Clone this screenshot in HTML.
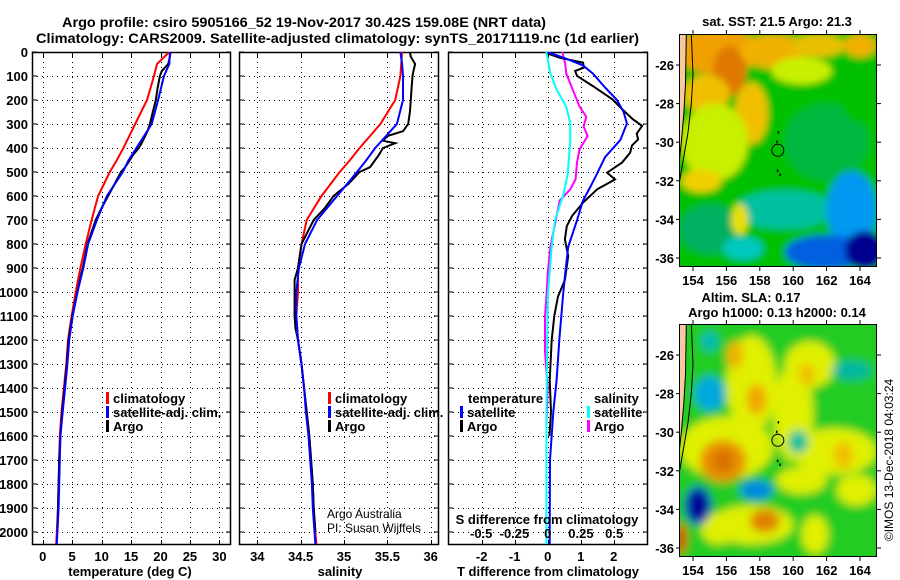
<!DOCTYPE html>
<html><head><meta charset="utf-8">
<style>
html,body{margin:0;padding:0;background:#fff;}
svg{display:block;font-family:"Liberation Sans",sans-serif;}
.b{font-weight:bold;font-size:13px;}
</style></head>
<body>
<svg id="fig" width="900" height="580" viewBox="0 0 900 580" xmlns="http://www.w3.org/2000/svg">
<defs>
<filter id="blurA" x="-20%" y="-20%" width="140%" height="140%"><feGaussianBlur stdDeviation="3.5"/></filter>
<filter id="blurB" x="-20%" y="-20%" width="140%" height="140%"><feGaussianBlur stdDeviation="4.5"/></filter>
<clipPath id="clipTop"><rect x="679" y="34" width="198" height="233"/></clipPath>
<clipPath id="clipBot"><rect x="679" y="324" width="198" height="233"/></clipPath>
<clipPath id="c1"><rect x="32" y="52" width="199" height="493"/></clipPath>
<clipPath id="c2"><rect x="239" y="52" width="200" height="493"/></clipPath>
<clipPath id="c3"><rect x="448" y="52" width="200" height="493"/></clipPath>
</defs>
<text x="62" y="27" font-size="14" font-weight="bold" textLength="484" lengthAdjust="spacingAndGlyphs">Argo profile: csiro 5905166_52 19-Nov-2017 30.42S 159.08E (NRT data)</text>
<text x="36" y="43" font-size="14" font-weight="bold" textLength="603" lengthAdjust="spacingAndGlyphs">Climatology: CARS2009. Satellite-adjusted climatology: synTS_20171119.nc (1d earlier)</text>
<g id="charts"></g>
<g id="maps"></g>
</svg>
<script>
// ---------- profile data ----------
const depthsC = [0,50,100,200,300,400,450,500,600,700,800,900,1000,1100,1200,1300,1400,1500,1600,1700,1800,1900,2000,2050];
const climT = [21.5,19.4,18.9,17.7,15.7,13.7,12.6,11.4,9.4,8.3,7.3,6.4,5.6,4.9,4.3,4.0,3.6,3.2,2.9,2.8,2.7,2.6,2.4,2.3];
const satT = [21.6,21.5,20.6,19.6,18.5,15.9,14.6,13.6,10.9,9.2,7.7,6.9,5.9,5.1,4.5,4.2,3.8,3.4,3.0,2.9,2.8,2.7,2.5,2.4];
const climS = [35.67,35.66,35.65,35.59,35.42,35.18,35.07,34.95,34.74,34.57,34.51,34.47,34.47,34.45,34.47,34.51,34.54,34.57,34.60,34.62,34.64,34.65,34.67,34.68];
const satS = [35.65,35.67,35.68,35.68,35.61,35.36,35.26,35.15,34.92,34.69,34.55,34.48,34.45,34.45,34.47,34.51,34.54,34.56,34.59,34.61,34.63,34.64,34.66,34.67];
const depthsA = [0,20,50,80,100,150,200,250,300,330,350,370,380,400,430,450,480,500,550,600,650,700,750,800,900,950,1000,1100,1150,1200,1300,1400,1500,1600,1700,1800,1900,2000];
const argoT = [21.7,21.6,21.3,20.2,19.9,19.5,19.2,18.7,18.2,17.8,17.4,17.0,16.8,16.3,15.3,14.8,14.0,13.3,12.2,11.1,10.0,9.0,8.3,7.6,6.8,6.3,5.9,5.0,4.7,4.4,4.1,3.7,3.3,3.0,2.8,2.7,2.6,2.5];
const argoS = [35.76,35.77,35.82,35.80,35.79,35.78,35.77,35.76,35.74,35.68,35.5,35.45,35.59,35.45,35.40,35.36,35.30,35.18,35.05,34.88,34.78,34.65,34.58,34.51,34.47,34.43,34.43,34.43,34.44,34.47,34.51,34.54,34.57,34.60,34.62,34.64,34.65,34.67];
const depthsSatDT = [0,30,56,90,150,200,250,298,367,438,508,560,619,700,812,923,1020,1200,1367,1500,1700,2000,2050];
const satDT = [0,0.6,1.07,1.37,1.75,2.1,2.3,2.4,2.2,1.74,1.49,1.3,1.07,0.89,0.62,0.53,0.46,0.35,0.27,0.17,0.07,0.06,0.06];
const depthsArgoDT = [4,10,24,44,65,79,100,142,198,240,280,308,340,364,390,419,461,503,531,572,628,683,725,781,850,950,1020,1100,1200,1367,1500,1600];
const argoDT = [0,0.07,0.37,1.07,1.1,0.83,0.89,1.37,1.97,2.27,2.58,2.86,2.7,2.74,2.55,2.5,2.25,1.8,2.04,1.5,1.07,0.74,0.58,0.52,0.62,0.52,0.31,0.2,0.12,0.06,0.1,0.05];
const depthsSatDS = [0,90,160,228,298,367,508,590,700,812,1020,1500,2050];
const satDS = [-0.01,0.02,0.07,0.14,0.17,0.17,0.15,0.12,0.055,0.03,0.0,-0.01,-0.01];
const depthsArgoDS = [0,44,90,160,228,270,310,350,405,460,530,572,619,675,758,812,923,1020,1100,1250,1400,1550];
const argoDS = [0.11,0.13,0.14,0.19,0.24,0.29,0.27,0.30,0.24,0.22,0.21,0.17,0.09,0.07,0.04,0.02,0.0,-0.01,-0.02,-0.02,0.0,-0.01];
const depthTicks = [0,100,200,300,400,500,600,700,800,900,1000,1100,1200,1300,1400,1500,1600,1700,1800,1900,2000];
const tTicks = [0,5,10,15,20,25,30];
const sTicks = [34,34.5,35,35.5,36];
const sTickLabels = ['34','34.5','35','35.5','36'];
const dtTicks = [-2,-1,0,1,2];
const dsTicks = [-0.5,-0.25,0,0.25,0.5];
const dsTickLabels = ['-0.5','-0.25','0','0.25','0.5'];

// ---------- map data ----------
const lonTicks = [154,156,158,160,162,164];
const latTicks = [-26,-28,-30,-32,-34,-36];
const sstBlobLon = [155.5,156.2,158.8,161.5,164.0,160.5,154.8,157.5,155.3,154.5,162.0,159.5,155.0,163.5,162.0,164.3,157.0,156.8,164.0];
const sstBlobLat = [-25.3,-26.3,-25.3,-25.0,-25.0,-26.3,-27.5,-28.5,-30.0,-32.0,-30.0,-33.5,-34.5,-33.5,-35.7,-35.6,-35.5,-34.0,-27.5];
const sstBlobRx = [2.5,1.0,2.0,1.6,1.0,1.8,1.4,1.0,2.0,1.2,2.5,3.0,1.8,1.5,2.5,1.2,1.2,0.5,1.2];
const sstBlobRy = [1.2,1.3,0.9,0.6,0.6,0.7,1.0,1.6,2.0,0.6,2.0,1.0,1.3,2.0,0.9,1.0,0.6,0.8,1.5];
const sstBlobCol = ['#f0a000','#e07800','#f0b000','#e8c000','#f0b000','#c8f000','#f0c000','#f0c000','#c8f000','#f0d000','#00b840','#00c0a0','#00b060','#0098f0','#0060e0','#000090','#00c8c0','#e8e000','#00c000'];
const slaBlobLon = [157.5,156.0,160.0,162.5,161.0,157.5,160.5,163.8,155.5,161.3,155.8,155.8,158.3,157.8,156.5,160.8,163.0,155.0,157.8,154.3,154.3,160.3,155.0,163.5,153.3];
const slaBlobLat = [-27.5,-30.8,-29.0,-31.0,-26.5,-34.8,-32.5,-33.0,-35.0,-35.3,-31.5,-31.5,-34.6,-28.3,-26.0,-27.0,-31.2,-28.0,-33.0,-33.8,-33.8,-30.5,-25.3,-26.8,-35.5];
const slaBlobRx = [1.5,2.8,1.2,2.5,1.5,2.5,1.5,1.2,1.0,0.8,1.4,0.6,0.9,0.6,0.5,0.5,0.6,0.9,1.0,0.8,0.5,0.6,0.5,1.2,0.3];
const slaBlobRy = [2.5,1.6,2.5,1.2,1.2,1.0,0.7,0.8,0.8,1.0,1.1,0.6,0.6,0.8,0.7,0.6,0.7,0.9,0.5,1.0,0.7,0.6,0.5,0.5,0.8];
const slaBlobCol = ['#e0f000','#e0f000','#e0f000','#e0f000','#e0f000','#e0f000','#e0f000','#e0f000','#e0f000','#e0f000','#e89000','#d87000','#e08000','#f0a800','#f0b000','#f0c000','#f0c000','#00a8e0','#0088e0','#0030c0','#000090','#00c0a0','#00b8b8','#00b8a0','#e00000'];

const NS='http://www.w3.org/2000/svg';
function mk(tag, attrs, parent){const e=document.createElementNS(NS,tag);for(const k in attrs)e.setAttribute(k,attrs[k]);parent.appendChild(e);return e;}
const charts=document.getElementById('charts');
const yD = d => 52 + d*0.24;
const xT = t => 42.7 + t*5.89;
const xS = s => 257.3 + (s-34)*86.7;
const xDT = v => 547.7 + v*33;
const xDS = v => 547.7 + v*133;

function line(parent, depths, vals, xf, color, name, w){
  let d='';
  for(let i=0;i<vals.length;i++){d+=(i?'L':'M')+xf(vals[i]).toFixed(1)+','+yD(depths[i]).toFixed(1);}
  const p=mk('path',{d:d,fill:'none',stroke:color,'stroke-width':w||2},parent);
  
  
}
function panel(x0,x1,xticks,xf,clip,name){
  const g=mk('g',{},charts);
  
  
  const grid=mk('g',{stroke:'#000','stroke-width':1,'stroke-dasharray':'1,4'},g);
  
  
  depthTicks.forEach(d=>{ if(d>0) mk('line',{x1:x0,x2:x1,y1:yD(d)+0.5,y2:yD(d)+0.5},grid); });
  xticks.forEach(v=>{ const x=Math.round(xf(v))+0.5; mk('line',{x1:x,x2:x,y1:52,y2:545},grid);
    mk('line',{x1:x,x2:x,y1:52,y2:57,stroke:'#000','stroke-dasharray':'none'},g);
    mk('line',{x1:x,x2:x,y1:540,y2:545,stroke:'#000','stroke-dasharray':'none'},g);});
  depthTicks.forEach(d=>{ mk('line',{x1:x0,x2:x0+5,y1:yD(d),y2:yD(d),stroke:'#000'},g); mk('line',{x1:x1-5,x2:x1,y1:yD(d),y2:yD(d),stroke:'#000'},g);});
  const fr=mk('rect',{x:x0+0.5,y:52.5,width:x1-x0-1,height:492,fill:'none',stroke:'#000','stroke-width':1.5},g);
  
  
  const lines=mk('g',{'clip-path':'url(#'+clip+')'},g);
  return {g:g,lines:lines};
}
function text(parent,x,y,str,name,opts){
  const t=mk('text',Object.assign({x:x,y:y},opts||{}),parent);
  t.textContent=str;
  
  
  return t;
}

const yl=mk('g',{'class':'b','text-anchor':'end'},charts);


depthTicks.forEach(d=>text(yl,28,yD(d)+5,String(d),'depth-tick-label'));

const p1=panel(32,231,tTicks,xT,'c1','temperature-panel');
line(p1.lines,depthsC,climT,xT,'#ff0000','climatology-temperature-line');
line(p1.lines,depthsA,argoT,xT,'#000','argo-temperature-line');
line(p1.lines,depthsC,satT,xT,'#0000ff','satellite-temperature-line');
tTicks.forEach(v=>text(p1.g,xT(v),561,String(v),'temperature-tick-label',{'class':'b','text-anchor':'middle'}));
text(p1.g,130,576,'temperature (deg C)','x-axis-title-temperature',{'class':'b','text-anchor':'middle'});

const p2=panel(239,439,sTicks,xS,'c2','salinity-panel');
line(p2.lines,depthsC,climS,xS,'#ff0000','climatology-salinity-line');
line(p2.lines,depthsA,argoS,xS,'#000','argo-salinity-line');
line(p2.lines,depthsC,satS,xS,'#0000ff','satellite-salinity-line');
sTicks.forEach((v,i)=>text(p2.g,xS(v),561,sTickLabels[i],'salinity-tick-label',{'class':'b','text-anchor':'middle'}));
text(p2.g,340,576,'salinity','x-axis-title-salinity',{'class':'b','text-anchor':'middle'});
text(p2.g,327,518,'Argo Australia','credit-line-1',{'font-size':'12'});
text(p2.g,327,532,'PI: Susan Wijffels','credit-line-2',{'font-size':'12'});

const p3=panel(448,648,dtTicks,xDT,'c3','difference-panel');
line(p3.lines,depthsArgoDS,argoDS,xDS,'#ff00ff','argo-salinity-diff-line');
line(p3.lines,depthsSatDS,satDS,xDS,'#00ffff','satellite-salinity-diff-line');
line(p3.lines,depthsArgoDT,argoDT,xDT,'#000','argo-temperature-diff-line');
line(p3.lines,depthsSatDT,satDT,xDT,'#0000ff','satellite-temperature-diff-line');
dtTicks.forEach(v=>text(p3.g,xDT(v),561,String(v),'t-diff-tick-label',{'class':'b','text-anchor':'middle'}));
text(p3.g,548,576,'T difference from climatology','x-axis-title-t-diff',{'class':'b','text-anchor':'middle'});
const sbg=mk('g',{},p3.g);
text(sbg,547,524,'S difference from climatology','s-diff-axis-title',{'class':'b','text-anchor':'middle'});
dsTicks.forEach((v,i)=>text(sbg,xDS(v),538,dsTickLabels[i],'s-diff-tick-label',{'class':'b','text-anchor':'middle'}));

function legend(parent,x,y,entries,name){
  const g=mk('g',{},parent);
  
  
  entries.forEach((e,i)=>{
    const yy=y+i*14;
    if(e[1]) { const r=mk('rect',{x:x,y:yy-11,width:3,height:12,fill:e[1]},g);
        }
    text(g,x+(e[1]?7:0),yy,e[0],'legend-entry',{'class':'b'});
  });
}
legend(p1.g,106,403,[['climatology','#ff0000'],['satellite-adj. clim.','#0000ff'],['Argo','#000']],'temperature-legend');
legend(p2.g,328,403,[['climatology','#ff0000'],['satellite-adj. clim.','#0000ff'],['Argo','#000']],'salinity-legend');
legend(p3.g,468,403,[['temperature',null]],'diff-legend-t-title');
legend(p3.g,460,417,[['satellite','#0000ff'],['Argo','#000']],'diff-legend-temperature');
legend(p3.g,594,403,[['salinity',null]],'diff-legend-s-title');
legend(p3.g,587,417,[['satellite','#00ffff'],['Argo','#ff00ff']],'diff-legend-salinity');

const maps=document.getElementById('maps');
const lonX = lon => 693 + (lon-154)*16.7;
function drawMap(y0,clip,bg,blobLon,blobLat,blobRx,blobRy,blobCol,filt,name){
  const latY = lat => y0 + 31 + (-26-lat)*19.3;
  const g=mk('g',{},maps);
  
  
  const c=mk('g',{'clip-path':'url(#'+clip+')'},g);
  mk('rect',{x:679,y:y0,width:198,height:233,fill:bg},c);
  const bl=mk('g',{filter:'url(#'+filt+')'},c);
  mk('rect',{x:670,y:y0-10,width:215,height:253,fill:bg},bl);
  for(let i=0;i<blobLon.length;i++){
    const e=mk('ellipse',{cx:lonX(blobLon[i]),cy:latY(blobLat[i]),rx:blobRx[i]*16.7,ry:blobRy[i]*19.3,fill:blobCol[i]},bl);
    
    
  }
  const land=mk('path',{d:`M679,${y0} L${lonX(153.6)},${y0} L${lonX(153.55)},${latY(-27)} L${lonX(153.45)},${latY(-28.5)} L${lonX(153.3)},${latY(-30)} L${lonX(153.1)},${latY(-31.6)} L679,${latY(-31.8)} Z`,fill:'#f8c8a0',stroke:'#000','stroke-width':1},c);
   
  const coast=mk('path',{d:`M${lonX(153.9)},${y0} L${lonX(154.0)},${latY(-26.5)} L${lonX(153.9)},${latY(-28)} L${lonX(153.7)},${latY(-29.5)} L${lonX(153.4)},${latY(-31)} L${lonX(153.2)},${latY(-32)}`,fill:'none',stroke:'#000','stroke-width':1},c);
   
  const m=mk('circle',{cx:lonX(159.08),cy:latY(-30.42),r:6,fill:'none',stroke:'#000','stroke-width':1},c);
   
  [[159.1,-29.5],[159.0,-30.0],[159.05,-31.5],[159.2,-31.7]].forEach(p=>{ const t=mk('rect',{x:lonX(p[0])-0.5,y:latY(p[1])-1.5,width:1.5,height:2.5,fill:'#000'},c);
      });
  mk('rect',{x:679.5,y:y0+0.5,width:197,height:232,fill:'none',stroke:'#000','stroke-width':1},g);
  lonTicks.forEach(l=>{ const x=lonX(l); mk('line',{x1:x,x2:x,y1:y0-4,y2:y0,stroke:'#000'},g); mk('line',{x1:x,x2:x,y1:y0+233,y2:y0+237,stroke:'#000'},g);
    text(g,x,y0+251,String(l),'longitude-tick-label',{'class':'b','text-anchor':'middle'}); });
  latTicks.forEach(l=>{ const y=latY(l); mk('line',{x1:676,x2:679,y1:y,y2:y,stroke:'#000'},g); mk('line',{x1:877,x2:881,y1:y,y2:y,stroke:'#000'},g);
    text(g,674,y+5,String(l),'latitude-tick-label',{'class':'b','text-anchor':'end'}); });
  return g;
}
const mt=drawMap(34,'clipTop','#00c000',sstBlobLon,sstBlobLat,sstBlobRx,sstBlobRy,sstBlobCol,'blurA','sst-map');
text(mt,777,26,'sat. SST: 21.5 Argo: 21.3','sst-map-title',{'class':'b','text-anchor':'middle'});
const mb=drawMap(324,'clipBot','#20cc20',slaBlobLon,slaBlobLat,slaBlobRx,slaBlobRy,slaBlobCol,'blurB','sla-map');
text(mb,751,302,'Altim. SLA: 0.17','sla-map-title',{'class':'b','text-anchor':'middle'});
text(mb,777,317,'Argo h1000: 0.13 h2000: 0.14','sla-map-subtitle',{'class':'b','text-anchor':'middle'});
text(maps,893,460,'©IMOS 13-Dec-2018 04:03:24','imos-timestamp',{'font-size':'12','text-anchor':'middle',transform:'rotate(-90 893 460)'});
</script>
</body></html>
